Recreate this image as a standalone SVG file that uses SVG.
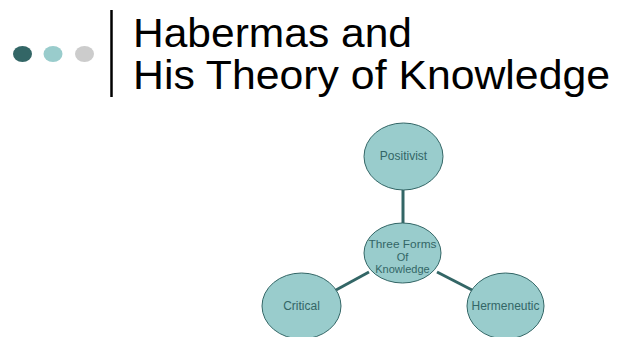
<svg xmlns="http://www.w3.org/2000/svg" width="617" height="337" viewBox="0 0 617 337">
<style>
.title{font-family:"Liberation Sans",Arial,sans-serif;font-size:41px;fill:#000}
.node ellipse{fill:#99cccc;stroke:#336666;stroke-width:1}
.node text{font-family:"Liberation Sans",Arial,sans-serif;font-size:12px;fill:#336666;text-anchor:middle}
.node text.sm{font-size:11px}
.conn line{stroke:#336666;stroke-width:3}
</style>
<rect width="617" height="337" fill="#fff"/>
<g id="bullets">
<ellipse cx="22.5" cy="54" rx="9.5" ry="8" fill="#336666"/>
<ellipse cx="53" cy="54" rx="9.5" ry="8" fill="#99cccc"/>
<ellipse cx="84.5" cy="54" rx="9.5" ry="8" fill="#cccccc"/>
</g>
<line x1="111.5" y1="10" x2="111.5" y2="97" stroke="#000" stroke-width="2.5"/>
<text class="title" x="133" y="47" textLength="279" lengthAdjust="spacingAndGlyphs">Habermas and</text>
<text class="title" x="133" y="89" textLength="477" lengthAdjust="spacingAndGlyphs">His Theory of Knowledge</text>
<g id="connectors" class="conn">
<line x1="403" y1="190" x2="403" y2="223"/>
<line x1="369" y1="272" x2="336" y2="290"/>
<line x1="437" y1="272" x2="472" y2="290"/>
</g>
<g id="positivist" class="node">
<ellipse cx="403.5" cy="156.5" rx="39.5" ry="33.5"/>
<text x="403.5" y="160">Positivist</text>
</g>
<g id="center" class="node">
<ellipse cx="402.5" cy="253" rx="38.5" ry="30"/>
<text class="sm" x="402.5" y="248" textLength="68" lengthAdjust="spacingAndGlyphs">Three Forms</text>
<text class="sm" x="402.5" y="260.5">Of</text>
<text class="sm" x="402.5" y="273">Knowledge</text>
</g>
<g id="critical" class="node">
<ellipse cx="301.5" cy="306" rx="39.5" ry="33"/>
<text x="301.5" y="310">Critical</text>
</g>
<g id="hermeneutic" class="node">
<ellipse cx="505.5" cy="306" rx="38.5" ry="33"/>
<text x="505.5" y="310">Hermeneutic</text>
</g>
</svg>
